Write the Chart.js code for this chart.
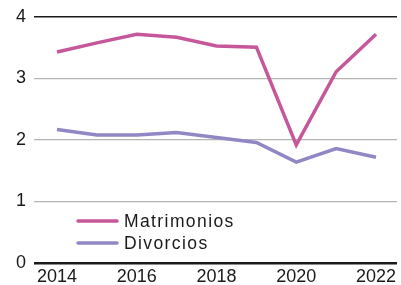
<!DOCTYPE html>
<html>
<head>
<meta charset="utf-8">
<script src="https://cdn.jsdelivr.net/npm/chart.js@4.4.1/dist/chart.umd.min.js"></script>
<style>
  html, body { margin: 0; padding: 0; background: #fff; }
  #wrap { width: 401px; height: 285px; }
</style>
</head>
<body>
<div id="wrap"><canvas id="c" width="401" height="285"></canvas></div>
<script>
// data
const years = [2014, 2015, 2016, 2017, 2018, 2019, 2020, 2021, 2022];
const matrimonios = [3.43, 3.58, 3.72, 3.67, 3.53, 3.51, 1.92, 3.11, 3.72];
const divorcios = [2.17, 2.08, 2.08, 2.12, 2.04, 1.96, 1.64, 1.86, 1.72];
const seriesLabels = ['Matrimonios', 'Divorcios'];
const seriesColors = ['#c6579a', '#9187c4'];

const FONT = '"Liberation Sans", Arial, sans-serif';

const toPoints = vals => vals.map((v, i) => ({ x: years[i], y: v }));

// legend drawn inside the plot, bottom-left
const innerLegend = {
    id: 'innerLegend',
    afterDraw(chart) {
        const ctx = chart.ctx;
        const area = chart.chartArea;
        ctx.save();
        chart.data.datasets.forEach((ds, i) => {
            const y = area.bottom - 42 + i * 22;
            const x = area.left + 44;
            ctx.strokeStyle = ds.borderColor;
            ctx.lineWidth = 3.5;
            ctx.lineCap = 'round';
            ctx.beginPath();
            ctx.moveTo(x, y);
            ctx.lineTo(x + 39, y);
            ctx.stroke();
            ctx.fillStyle = '#1a1a1a';
            ctx.font = '17.5px ' + FONT;
            ctx.letterSpacing = '1.4px';
            ctx.textBaseline = 'middle';
            ctx.fillText(ds.label, x + 46, y + 1);
        });
        ctx.restore();
    }
};

new Chart(document.getElementById('c'), {
    type: 'line',
    data: {
        datasets: [
            {
                label: seriesLabels[0],
                data: toPoints(matrimonios),
                borderColor: seriesColors[0],
                borderWidth: 3.5,
                pointRadius: 0,
                tension: 0,
                fill: false
            },
            {
                label: seriesLabels[1],
                data: toPoints(divorcios),
                borderColor: seriesColors[1],
                borderWidth: 3.5,
                pointRadius: 0,
                tension: 0,
                fill: false
            }
        ]
    },
    options: {
        responsive: false,
        animation: false,
        layout: { padding: { top: 7, right: 4, left: 0, bottom: 0 } },
        plugins: {
            legend: { display: false },
            tooltip: { enabled: false }
        },
        scales: {
            x: {
                type: 'linear',
                min: 2013.423,
                max: 2022.526,
                afterBuildTicks(scale) {
                    scale.ticks = [2014, 2016, 2018, 2020, 2022].map(v => ({ value: v }));
                },
                afterFit(scale) {
                    scale.height = 22;
                    // labels fit inside the offsets, no extra side padding
                    scale.paddingLeft = 0;
                    scale.paddingRight = 0;
                },
                grid: { display: false, drawTicks: false, tickLength: 0 },
                border: { display: false },
                ticks: {
                    color: '#1a1a1a',
                    font: { family: FONT, size: 18, lineHeight: 1 },
                    padding: 5,
                    maxRotation: 0,
                    autoSkip: false,
                    callback: v => String(v)
                }
            },
            y: {
                min: 0,
                max: 4,
                afterFit(scale) { scale.width = 34; },
                border: { display: false },
                grid: {
                    drawTicks: false,
                    color: c => (c.tick.value === 0 || c.tick.value === 4) ? '#1a1a1a' : '#b5b5b5',
                    lineWidth: c => c.tick.value === 0 ? 2.5 : (c.tick.value === 4 ? 1.5 : 1.2)
                },
                ticks: {
                    stepSize: 1,
                    color: '#1a1a1a',
                    font: { family: FONT, size: 18, lineHeight: 1 },
                    padding: 8
                }
            }
        }
    },
    plugins: [innerLegend]
});
</script>
</body>
</html>
